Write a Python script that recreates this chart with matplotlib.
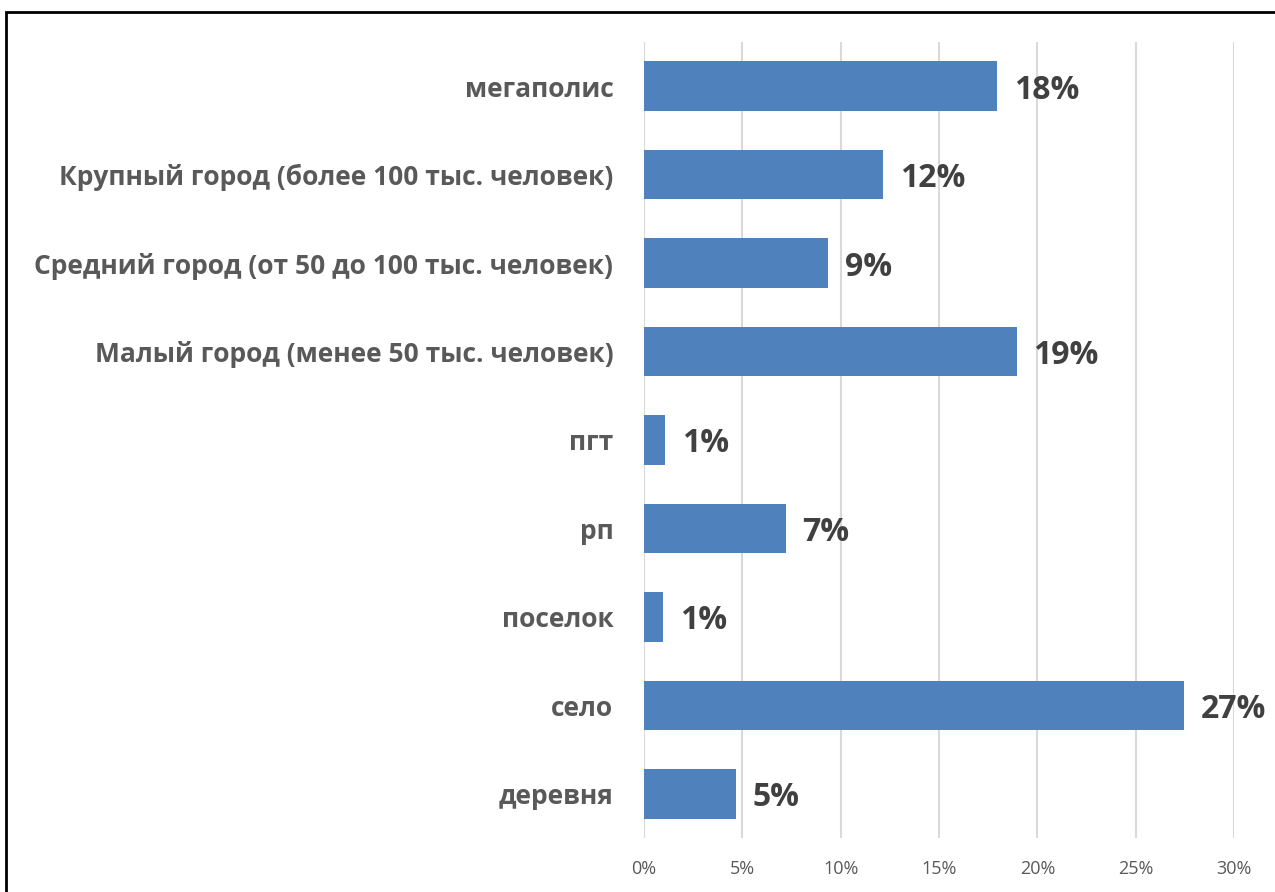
import matplotlib.pyplot as plt
from matplotlib.patches import Rectangle

# categories top to bottom, values in percent
categories = ['мегаполис', 'Крупный город (более 100 тыс. человек)',
              'Средний город (от 50 до 100 тыс. человек)',
              'Малый город (менее 50 тыс. человек)', 'пгт', 'рп',
              'поселок', 'село', 'деревня']
values = [17.95, 12.15, 9.35, 18.95, 1.07, 7.2, 0.97, 27.45, 4.68]
value_labels = ['18%', '12%', '9%', '19%', '1%', '7%', '1%', '27%', '5%']
ticks = [0, 5, 10, 15, 20, 25, 30]
tick_labels = ['0%', '5%', '10%', '15%', '20%', '25%', '30%']

plt.rcParams['font.family'] = ['Open Sans', 'DejaVu Sans']

fig = plt.figure(figsize=(12.75, 8.92), dpi=100)
ax = fig.add_axes([0.505, 0.0605, 0.463, 0.8925])

y = list(range(len(categories)))
ax.barh(y, values, height=0.56, color='#4F81BD', zorder=3)
ax.set_ylim(len(categories) - 0.5, -0.5)
ax.set_xlim(0, 30)
ax.set_yticks(y)
ax.set_yticklabels(categories, fontsize=19, fontweight='bold', color='#595959')
ax.set_xticks(ticks)
ax.set_xticklabels(tick_labels, fontsize=13, color='#595959')
ax.tick_params(length=0, axis='both')
ax.tick_params(axis='y', pad=22)
ax.tick_params(axis='x', pad=16)
ax.grid(axis='x', color='#D9D9D9', linewidth=1.5, zorder=0)
for s in ax.spines.values():
    s.set_visible(False)

for yi, v, lab in zip(y, values, value_labels):
    ax.text(v + 0.85, yi, lab, va='center_baseline', ha='left', fontsize=23,
            fontweight='bold', color='#404040')

# outer frame
fig.patches.append(Rectangle((6 / 1275, -0.1), 1.2, 1 - 12 / 892 + 0.1,
                             transform=fig.transFigure, fill=False,
                             edgecolor='black', linewidth=2))

fig.savefig('out.png', dpi=100)
